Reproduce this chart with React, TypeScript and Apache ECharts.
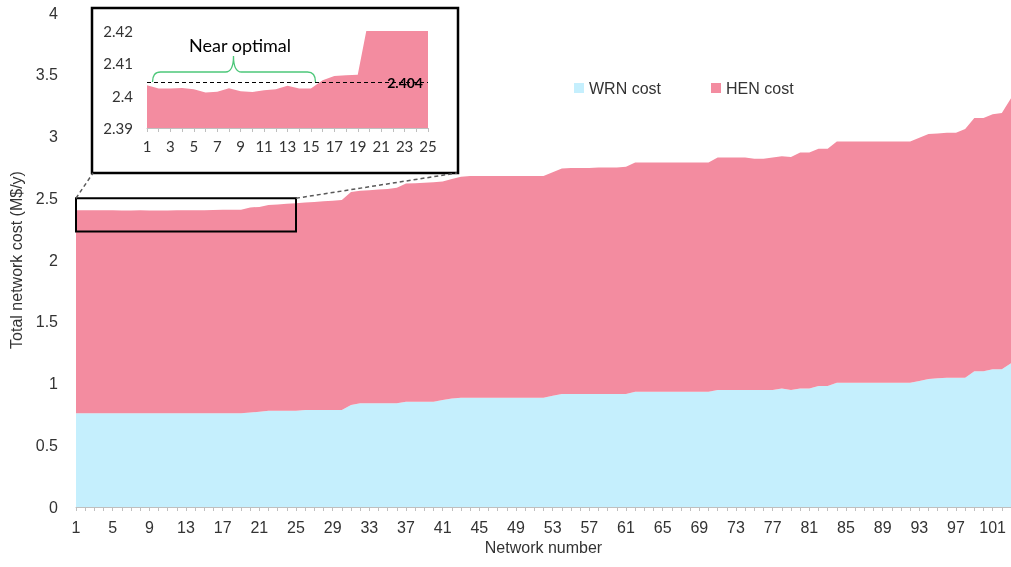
import React, { useEffect, useRef } from 'react';
import * as echarts from 'echarts';

const networkNumbers: string[] = Array.from({ length: 103 }, (_, i) => String(i + 1));

const totalCost: number[] = [
  2.4032, 2.4022, 2.4022, 2.4024, 2.402, 2.401, 2.4012, 2.4023, 2.4014, 2.4011,
  2.4017, 2.402, 2.4031, 2.4022, 2.4022, 2.4048, 2.4061, 2.4063, 2.4065, 2.425,
  2.43, 2.445, 2.45, 2.455, 2.46, 2.465, 2.47, 2.475, 2.48, 2.485,
  2.55, 2.56, 2.565, 2.57, 2.575, 2.585, 2.62, 2.622, 2.625, 2.63,
  2.635, 2.655, 2.675, 2.68, 2.68, 2.68, 2.68, 2.68, 2.68, 2.68,
  2.68, 2.68, 2.71, 2.74, 2.745, 2.745, 2.745, 2.75, 2.75, 2.75,
  2.755, 2.79, 2.79, 2.79, 2.79, 2.79, 2.79, 2.79, 2.79, 2.79,
  2.83, 2.83, 2.83, 2.83, 2.82, 2.82, 2.83, 2.84, 2.835, 2.87,
  2.87, 2.9, 2.9, 2.96, 2.96, 2.96, 2.96, 2.96, 2.96, 2.96,
  2.96, 2.96, 2.99, 3.02, 3.025, 3.03, 3.03, 3.06, 3.15, 3.15,
  3.18, 3.19, 3.31,
];

const wrnCost: number[] = [
  0.76, 0.76, 0.76, 0.76, 0.76, 0.76, 0.76, 0.76, 0.76, 0.76,
  0.76, 0.76, 0.76, 0.76, 0.76, 0.76, 0.76, 0.76, 0.76, 0.765,
  0.772, 0.78, 0.78, 0.78, 0.78, 0.785, 0.785, 0.785, 0.785, 0.785,
  0.826, 0.84, 0.84, 0.84, 0.84, 0.84, 0.853, 0.853, 0.853, 0.853,
  0.866, 0.878, 0.885, 0.885, 0.885, 0.885, 0.885, 0.885, 0.885, 0.885,
  0.885, 0.885, 0.9, 0.915, 0.915, 0.915, 0.915, 0.915, 0.915, 0.915,
  0.915, 0.934, 0.934, 0.934, 0.934, 0.934, 0.934, 0.934, 0.934, 0.934,
  0.947, 0.947, 0.947, 0.947, 0.947, 0.947, 0.947, 0.96, 0.947, 0.96,
  0.96, 0.98, 0.98, 1.007, 1.007, 1.007, 1.007, 1.007, 1.007, 1.007,
  1.007, 1.007, 1.02, 1.036, 1.042, 1.047, 1.047, 1.047, 1.1, 1.1,
  1.115, 1.115, 1.163,
];

const henCost: number[] = totalCost.map((t, i) => +(t - wrnCost[i]).toFixed(4));

const insetCount = 25;
const insetNumbers = networkNumbers.slice(0, insetCount);
const insetTotal = totalCost.slice(0, insetCount);
const optimalLevel = 2.404;
const zoomBoxLow = 2.23;
const zoomBoxHigh = 2.5;

const BLUE = '#c5effd';
const PINK = '#f38ca0';
const MAIN_FONT = '"Liberation Sans", Arial, sans-serif';
const INSET_FONT = 'Lato, "Noto Sans", sans-serif';

echarts.graphic.registerShape(
  'brace',
  echarts.graphic.extendPath('M0,26 Q0,16 8,16 L73,16 Q81,16 81,0 Q81,16 89,16 L155,16 Q163,16 163,26', {})
);

export default function App() {
  const ref = useRef<HTMLDivElement>(null);

  useEffect(() => {
    if (!ref.current) return;
    const chart = echarts.init(ref.current, null, { renderer: 'svg' });
    const axisGray = '#bfbfbf';
    const textColor = '#333';

    chart.setOption({
      animation: false,
      legend: {
        data: ['WRN cost', 'HEN cost'],
        left: 569,
        top: 75,
        icon: 'rect',
        itemWidth: 10,
        itemHeight: 10,
        itemGap: 50,
        textStyle: { fontFamily: MAIN_FONT, fontSize: 16, color: textColor },
      },
      grid: [
        { left: 76, right: 0, top: 13, bottom: 60 },
        { left: 147, right: 583, top: 31, bottom: 439 },
      ],
      xAxis: [
        {
          type: 'category',
          gridIndex: 0,
          data: networkNumbers,
          boundaryGap: false,
          name: 'Network number',
          nameLocation: 'middle',
          nameGap: 30,
          nameTextStyle: { fontFamily: MAIN_FONT, fontSize: 16, color: textColor },
          axisLine: { lineStyle: { color: axisGray } },
          axisTick: { interval: 0, length: 4, lineStyle: { color: axisGray } },
          axisLabel: { interval: 3, margin: 12, fontFamily: MAIN_FONT, fontSize: 16, color: textColor },
          splitLine: { show: false },
        },
        {
          type: 'category',
          gridIndex: 1,
          data: insetNumbers,
          boundaryGap: false,
          axisLine: { lineStyle: { color: axisGray } },
          axisTick: { interval: 0, length: 4, lineStyle: { color: axisGray } },
          axisLabel: { interval: 1, margin: 10, fontFamily: INSET_FONT, fontSize: 15, color: textColor },
          splitLine: { show: false },
        },
      ],
      yAxis: [
        {
          type: 'value',
          gridIndex: 0,
          min: 0,
          max: 4,
          interval: 0.5,
          name: 'Total network cost (M$/y)',
          nameLocation: 'middle',
          nameGap: 46,
          nameTextStyle: { fontFamily: MAIN_FONT, fontSize: 16, color: textColor },
          axisLine: { show: false },
          axisTick: { show: false },
          axisLabel: { margin: 18, fontFamily: MAIN_FONT, fontSize: 16, color: textColor },
          splitLine: { show: false },
        },
        {
          type: 'value',
          gridIndex: 1,
          min: 2.39,
          max: 2.42,
          interval: 0.01,
          axisLine: { show: false },
          axisTick: { show: false },
          axisLabel: {
            margin: 14,
            fontFamily: INSET_FONT,
            fontSize: 15,
            color: textColor,
            formatter: (v: number) => String(+v.toFixed(2)),
          },
          splitLine: { show: false },
        },
      ],
      series: [
        {
          name: 'WRN cost',
          type: 'line',
          xAxisIndex: 0,
          yAxisIndex: 0,
          stack: 'total',
          data: wrnCost,
          symbol: 'none',
          lineStyle: { width: 0 },
          itemStyle: { color: BLUE },
          areaStyle: { color: BLUE, opacity: 1 },
        },
        {
          name: 'HEN cost',
          type: 'line',
          xAxisIndex: 0,
          yAxisIndex: 0,
          stack: 'total',
          data: henCost,
          symbol: 'none',
          lineStyle: { width: 0 },
          itemStyle: { color: PINK },
          areaStyle: { color: PINK, opacity: 1 },
        },
        {
          name: 'Inset total',
          type: 'line',
          xAxisIndex: 1,
          yAxisIndex: 1,
          data: insetTotal,
          symbol: 'none',
          clip: true,
          lineStyle: { width: 0 },
          itemStyle: { color: PINK },
          areaStyle: { color: PINK, opacity: 1 },
          markLine: {
            silent: true,
            precision: 4,
            symbol: ['none', 'none'],
            lineStyle: { color: '#000', type: [4, 3], width: 1 },
            label: {
              position: 'insideEnd',
              formatter: String(optimalLevel),
              fontFamily: INSET_FONT,
              fontWeight: 'bold',
              fontSize: 14,
              color: '#000',
            },
            data: [{ yAxis: optimalLevel }],
          },
        },
      ],
    });

    const tl = chart.convertToPixel({ xAxisIndex: 0, yAxisIndex: 0 }, ['1', zoomBoxHigh]) as number[];
    const br = chart.convertToPixel({ xAxisIndex: 0, yAxisIndex: 0 }, ['25', zoomBoxLow]) as number[];
    const box = { x: 92, y: 8, width: 366, height: 165 };

    chart.setOption({
      graphic: [
        {
          type: 'rect',
          z: 10,
          shape: box,
          style: { fill: 'none', stroke: '#000', lineWidth: 2.5 },
        },
        {
          type: 'rect',
          z: 10,
          shape: { x: tl[0], y: tl[1], width: br[0] - tl[0], height: br[1] - tl[1] },
          style: { fill: 'none', stroke: '#000', lineWidth: 2 },
        },
        {
          type: 'line',
          z: 10,
          shape: { x1: tl[0], y1: tl[1], x2: box.x + 1, y2: box.y + box.height },
          style: { stroke: '#595959', lineWidth: 1.5, lineDash: [4, 3] },
        },
        {
          type: 'line',
          z: 10,
          shape: { x1: br[0], y1: tl[1], x2: box.x + box.width - 1, y2: box.y + box.height },
          style: { stroke: '#595959', lineWidth: 1.5, lineDash: [4, 3] },
        },
        {
          type: 'text',
          z: 10,
          x: 240,
          y: 45,
          style: {
            text: 'Near optimal',
            font: '18px ' + INSET_FONT,
            fill: '#000',
            textAlign: 'center',
            textVerticalAlign: 'middle',
            align: 'center',
            verticalAlign: 'middle',
          },
        },
        {
          type: 'brace',
          z: 10,
          x: 152.5,
          y: 56,
          style: { fill: 'none', stroke: '#4cc779', lineWidth: 1.3 },
        },
      ],
    });

    return () => chart.dispose();
  }, []);

  return <div ref={ref} style={{ position: 'fixed', left: 0, top: 0, width: 1011, height: 567 }} />;
}
